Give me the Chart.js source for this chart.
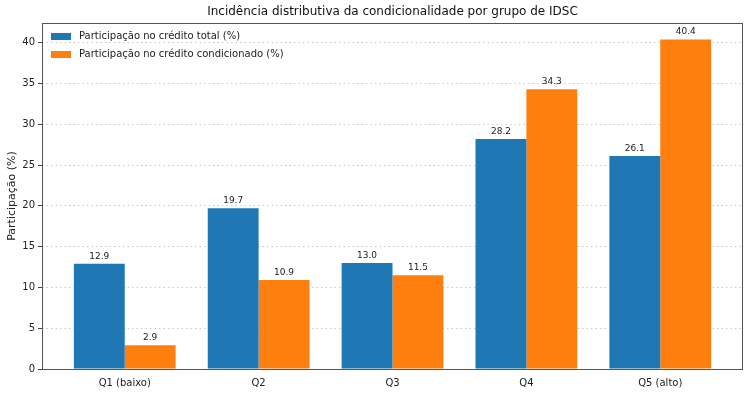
<!DOCTYPE html>
<html>
<head>
<meta charset="utf-8">
<script src="https://cdn.jsdelivr.net/npm/chart.js@4"></script>
<style>
html,body{margin:0;padding:0;background:#fff;}
#wrap{width:750px;height:395px;}
</style>
</head>
<body>
<div id="wrap"><canvas id="c" width="750" height="395"></canvas></div>
<script>
const categories = ["Q1 (baixo)", "Q2", "Q3", "Q4", "Q5 (alto)"];
const totalShare = [12.9, 19.7, 13.0, 28.2, 26.1];
const conditionedShare = [2.9, 10.9, 11.5, 34.3, 40.4];
const seriesNames = ["Participação no crédito total (%)", "Participação no crédito condicionado (%)"];
const yTicks = [0, 5, 10, 15, 20, 25, 30, 35, 40];
const titleText = "Incidência distributiva da condicionalidade por grupo de IDSC";
const yTitle = "Participação (%)";

const FONT = "'DejaVu Sans', sans-serif";
const BLUE = "#1f77b4", ORANGE = "#ff7f0e";

const framePlugin = {
  id: 'frame',
  afterDatasetsDraw(chart) {
    const ctx = chart.ctx, a = chart.chartArea;
    ctx.save();
    ctx.font = "9px " + FONT;
    ctx.fillStyle = "#222";
    ctx.textAlign = "center";
    ctx.textBaseline = "bottom";
    chart.data.datasets.forEach((ds, di) => {
      const meta = chart.getDatasetMeta(di);
      meta.data.forEach((bar, i) => {
        ctx.fillText(ds.data[i].y.toFixed(1), bar.x, bar.y - 3);
      });
    });
    ctx.strokeStyle = "#555";
    ctx.lineWidth = 1;
    ctx.strokeRect(Math.round(a.left) + 0.5, Math.round(a.top) + 0.5, Math.round(a.right - a.left) - 1, Math.round(a.bottom - a.top));
    ctx.font = "12px " + FONT;
    ctx.fillStyle = "#111";
    ctx.textBaseline = "middle";
    ctx.fillText(titleText, (a.left + a.right) / 2, 12);
    ctx.font = "10px " + FONT;
    ctx.textAlign = "left";
    chart.data.datasets.forEach((ds, di) => {
      const y = 36 + di * 18;
      ctx.fillStyle = ds.backgroundColor;
      ctx.fillRect(51, y - 3, 20, 7);
      ctx.fillStyle = "#222";
      ctx.fillText(ds.label, 79, y + 0.5);
    });
    ctx.restore();
  }
};

new Chart(document.getElementById('c'), {
  type: 'bar',
  data: {
    datasets: [
      { label: seriesNames[0], data: totalShare.map((v, i) => ({x: i, y: v})), backgroundColor: BLUE, categoryPercentage: 0.76, barPercentage: 1.0 },
      { label: seriesNames[1], data: conditionedShare.map((v, i) => ({x: i, y: v})), backgroundColor: ORANGE, categoryPercentage: 0.76, barPercentage: 1.0 }
    ]
  },
  options: {
    responsive: false,
    animation: false,
    layout: { padding: { top: 23, right: 7, left: 0, bottom: 0 } },
    plugins: { legend: { display: false }, title: { display: false }, tooltip: { enabled: false } },
    scales: {
      x: {
        type: 'linear',
        offset: false,
        min: -0.618,
        max: 4.618,
        afterBuildTicks(scale) { scale.ticks = categories.map((c, i) => ({ value: i })); },
        afterFit(scale) { scale.height = 26; },
        grid: { display: false, drawTicks: true, tickLength: 4, tickColor: '#444' },
        border: { display: false },
        ticks: {
          callback: (v) => categories[v] !== undefined ? categories[v] : '',
          font: { family: FONT, size: 10 }, color: '#222', padding: 4, maxRotation: 0, autoSkip: false
        }
      },
      y: {
        min: 0,
        max: 42.42,
        afterBuildTicks(scale) { scale.ticks = yTicks.map(v => ({ value: v })); },
        afterFit(scale) { scale.width = 42; },
        grid: { color: '#c8c8c8', lineWidth: 1, drawTicks: true, tickLength: 4, tickColor: '#444', tickBorderDash: [], tickWidth: 1 },
        border: { display: false, dash: [1.5, 3] },
        ticks: { font: { family: FONT, size: 10 }, color: '#222', padding: 3, includeBounds: false },
        title: { display: true, text: yTitle, font: { family: FONT, size: 11 }, color: '#222', padding: { top: 6, bottom: 2 } }
      }
    }
  },
  plugins: [framePlugin]
});
</script>
</body>
</html>
